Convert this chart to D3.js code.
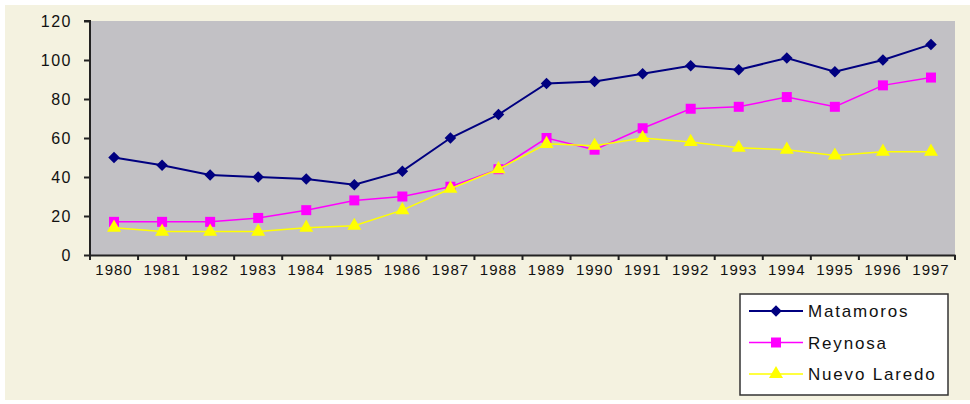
<!DOCTYPE html>
<html lang="en">
  <head>
    <meta charset="utf-8">
    <title>border cities</title>
    <script src="https://d3js.org/d3.v7.min.js"></script>
    <style>
      body { margin: 0; background: #fff; }
      text { font-family: "Liberation Sans", Arial, sans-serif; fill: #111; }
    </style>
  </head>
  <body>
    <svg id="chart"></svg>
    <script>

    // DATA
    const years = ['1980','1981','1982','1983','1984','1985','1986','1987','1988',
                   '1989','1990','1991','1992','1993','1994','1995','1996','1997'];
    const matamoros = [50, 46, 41, 40, 39, 36, 43, 60, 72, 88, 89, 93, 97, 95, 101, 94, 100, 108];
    const reynosa = [17, 17, 17, 19, 23, 28, 30, 35, 44, 60, 54, 65, 75, 76, 81, 76, 87, 91];
    const nuevoLaredo = [14, 12, 12, 12, 14, 15, 23, 34, 44, 57, 56, 60, 58, 55, 54, 51, 53, 53];
    const yTicks = [0, 20, 40, 60, 80, 100, 120];

    const series = [
      {name: 'Matamoros', values: matamoros, color: '#000080', symbol: d3.symbolDiamond2, size: 85, width: 2},
      {name: 'Reynosa', values: reynosa, color: '#ff00ff', symbol: d3.symbolSquare, size: 100, width: 1.5},
      {name: 'Nuevo Laredo', values: nuevoLaredo, color: '#ffff00', symbol: d3.symbolTriangle, size: 85, width: 1.5}
    ];

    // DIMENSIONS
    const width = 970, height = 404;
    const plot = {left: 90, top: 21, right: 955, bottom: 255};

    const svg = d3.select('#chart')
      .attr('width', width)
      .attr('height', height);

    svg.append('rect')
      .attr('x', 5).attr('y', 5)
      .attr('width', width - 5).attr('height', height - 9)
      .style('fill', '#f4f2e0');

    const x = d3.scaleBand().domain(years).range([plot.left, plot.right]);
    const y = d3.scaleLinear().domain([0, 120]).range([plot.bottom, plot.top]);

    svg.append('rect')
      .attr('x', plot.left).attr('y', plot.top)
      .attr('width', plot.right - plot.left).attr('height', plot.bottom - plot.top)
      .style('fill', '#c2c1c5');

    // AXES
    const yAxis = svg.append('g')
      .attr('transform', `translate(${plot.left},0)`)
      .call(d3.axisLeft(y).tickValues(yTicks).tickSize(6).tickPadding(12));
    yAxis.select('.domain').attr('d', `M-6,${plot.top}H0V${plot.bottom}`);

    const xAxis = svg.append('g')
      .attr('transform', `translate(0,${plot.bottom})`)
      .call(d3.axisBottom(x).tickSize(0).tickPadding(9));

    // ticks between categories
    xAxis.selectAll('.sep')
      .data(years.concat(['end']))
      .join('line')
      .attr('class', 'sep')
      .attr('x1', (d, i) => plot.left + i * x.step())
      .attr('x2', (d, i) => plot.left + i * x.step())
      .attr('y1', 0).attr('y2', 5);

    svg.selectAll('.domain, .tick line, .sep')
      .style('stroke', '#222').style('stroke-width', 2);

    yAxis.selectAll('text').style('font-size', '16px').style('letter-spacing', '1.5px');
    xAxis.selectAll('text').style('font-size', '15px').style('letter-spacing', '1px');

    // LINES
    const line = d3.line()
      .x((d, i) => x(years[i]) + x.bandwidth() / 2)
      .y(d => y(d));

    series.forEach(s => {
      const g = svg.append('g');
      g.append('path')
        .attr('d', line(s.values))
        .style('fill', 'none')
        .style('stroke', s.color)
        .style('stroke-width', s.width);
      g.selectAll('path.mark')
        .data(s.values)
        .join('path')
        .attr('class', 'mark')
        .attr('d', d3.symbol().type(s.symbol).size(s.size))
        .attr('transform', (d, i) => `translate(${x(years[i]) + x.bandwidth() / 2},${y(d)})`)
        .style('fill', s.color);
    });

    // LEGEND
    const legend = svg.append('g').attr('transform', 'translate(740,294)');
    legend.append('rect')
      .attr('width', 208).attr('height', 101)
      .style('fill', '#fff').style('stroke', '#333').style('stroke-width', 1.5);

    const entry = legend.selectAll('g.entry')
      .data(series)
      .join('g')
      .attr('class', 'entry')
      .attr('transform', (d, i) => `translate(0,${17 + i * 31.5})`);
    entry.append('line')
      .attr('x1', 9).attr('x2', 63)
      .style('stroke', d => d.color).style('stroke-width', d => d.width);
    entry.append('path')
      .attr('d', d => d3.symbol().type(d.symbol).size(d.size)())
      .attr('transform', 'translate(36,0)')
      .style('fill', d => d.color);
    entry.append('text')
      .text(d => d.name)
      .attr('x', 68).attr('dy', '0.36em')
      .style('font-size', '17px').style('letter-spacing', '1.8px');

    </script>
  </body>
</html>
